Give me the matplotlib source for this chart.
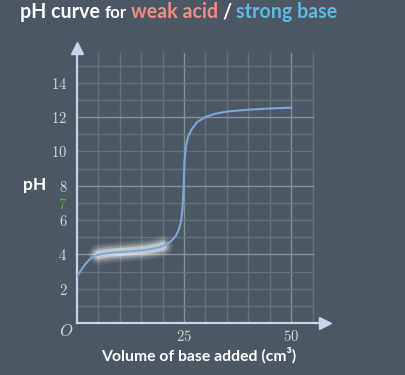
import numpy as np
import matplotlib
matplotlib.use("Agg")
import matplotlib.pyplot as plt

plt.rcParams['mathtext.fontset'] = 'cm'

# titration curve
vol = np.array([0, 1, 2, 3, 4, 5, 6, 8, 10, 12.5, 15, 17.5, 19, 20, 21, 22, 23,
                23.8, 24.3, 24.6, 24.8, 24.95, 25.1, 25.3, 25.6, 26, 26.8, 28,
                30, 32, 35, 40, 45, 50])
ph = np.array([2.72, 3.1, 3.45, 3.72, 3.9, 3.98, 4.03, 4.09, 4.13, 4.18, 4.23,
               4.32, 4.4, 4.48, 4.6, 4.78, 5.05, 5.45, 5.95, 6.6, 7.4, 8.4, 9.4,
               10.0, 10.5, 10.9, 11.3, 11.7, 12.0, 12.18, 12.32, 12.43, 12.5,
               12.55])
buffer_lo, buffer_hi = 5, 20.6

yticks = [2, 4, 6, 7, 8, 10, 12, 14]
xticks = [25, 50]

bg = '#4b5762'
W, H = 405, 375
fig = plt.figure(figsize=(W / 100, H / 100), dpi=100, facecolor=bg)
ax = fig.add_axes([77 / W, 52 / H, 251 / W, 278 / H])
ax.set_facecolor(bg)
ax.set_xlim(0, 58.6)
ax.set_ylim(0, 16.2)

# grid
for gx in np.arange(5, 56, 5):
    c = '#8a9096' if gx % 25 == 0 else '#687178'
    ax.plot([gx, gx], [0, 15.75], color=c, lw=1, zorder=1)
for gy in np.arange(1, 16):
    c = '#8a9096' if gy % 4 == 0 else '#687178'
    ax.plot([0, 55.1], [gy, gy], color=c, lw=1, zorder=1)

# glow on the buffer region
m = (vol >= buffer_lo) & (vol <= buffer_hi)
for lw, a in [(15, 0.08), (12, 0.14), (9, 0.25), (6, 0.45)]:
    ax.plot(vol[m], ph[m], color='white', lw=lw, alpha=a,
            solid_capstyle='round', zorder=2)

ax.plot(vol, ph, color='#7fa6da', lw=1.5, zorder=3)

# axes with arrows
axc = '#c9d5ea'
for s in ['top', 'right']:
    ax.spines[s].set_visible(False)
for s in ['left', 'bottom']:
    ax.spines[s].set_color(axc)
    ax.spines[s].set_linewidth(1.6)
ax.spines['left'].set_bounds(0, 15.9)
ax.spines['bottom'].set_bounds(0, 57.5)
ax.plot(0, 16.0, marker='^', ms=8, color=axc, clip_on=False, zorder=5)
ax.plot(57.8, 0, marker='>', ms=8, color=axc, clip_on=False, zorder=5)

ax.set_yticks(yticks)
ax.set_yticklabels([f'${t}$' for t in yticks])
ax.set_xticks(xticks)
ax.set_xticklabels([f'${t}$' for t in xticks])
ax.tick_params(length=0, labelsize=10.5, labelcolor='#d6d9dc')
ax.tick_params(axis='y', pad=7)
ax.tick_params(axis='x', pad=4)
for lab in ax.get_yticklabels():
    if lab.get_text() == '$7$':
        lab.set_color('#62a94f')

fig.text(66 / W, 1 - 331 / H, '$O$', ha='center', va='center',
         fontsize=12, color='#d6d9dc')

fig.text(35 / W, 1 - 185 / H, 'pH', ha='center', va='center',
         fontsize=12.5, fontweight='bold', color='white', family='Lato')
fig.text(199 / W, 1 - 355 / H, 'Volume of base added (cm³)', ha='center',
         va='center', fontsize=11.3, fontweight='bold', color='white',
         family='Lato')

# title in pieces, each placed after the previous one
pieces = [('pH curve', 14.1, 'white'), ('for', 12.2, 'white'),
          ('weak acid', 14.1, '#f28b82'), ('/', 14.1, 'white'),
          ('strong base', 14.1, '#5bbbe0')]
renderer = fig.canvas.get_renderer()
x = 20
ty = 1 - 18.5 / H
for txt, fs, col in pieces:
    t = fig.text(x / W, ty, txt, fontsize=fs, fontweight='bold', color=col,
                 family='Lato', va='baseline')
    x = t.get_window_extent(renderer).x1 + 4.5

fig.savefig('out.png', dpi=100, facecolor=bg)
